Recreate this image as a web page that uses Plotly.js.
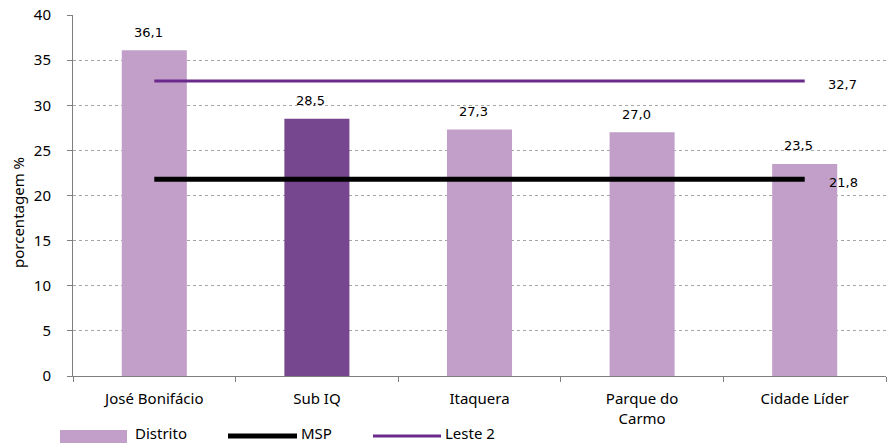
<!DOCTYPE html>
<html>
<head>
<meta charset="utf-8">
<script src="https://cdn.plot.ly/plotly-3.0.1.min.js"></script>
<style>html,body{margin:0;padding:0;background:#fff;}#chart{width:887px;height:444px;}</style>
</head>
<body>
<div id="chart"></div>
<script>
const categories = ["José Bonifácio", "Sub IQ", "Itaquera", "Parque do<br>Carmo", "Cidade Líder"];
const distritoValues = [36.1, 28.5, 27.3, 27.0, 23.5];
const mspValue = 21.8;
const leste2Value = 32.7;
const barColors = ["#C19FC9", "#76468F", "#C19FC9", "#C19FC9", "#C19FC9"];

const W = 887, H = 444;
const M = {l: 73, r: 1, t: 15, b: 68};
const pw = W - M.l - M.r, ph = H - M.t - M.b;
const px = x => (x - M.l) / pw;
const py = y => (H - M.b - y) / ph;

const fmt = v => v.toFixed(1).replace('.', ',');
const font = {family: "Noto Sans, Open Sans, sans-serif", size: 15, color: "#000"};
const labelFont = {family: "DejaVu Sans, Verdana, sans-serif", size: 13, color: "#000"};

const traces = [
  {type: "bar", x: categories, y: distritoValues, marker: {color: barColors},
   name: "Distrito", showlegend: false, hoverinfo: "none"},
  {type: "scatter", mode: "lines", x: categories, y: categories.map(() => mspValue),
   line: {color: "#000", width: 5}, name: "MSP", showlegend: false, hoverinfo: "none"},
  {type: "scatter", mode: "lines", x: categories, y: categories.map(() => leste2Value),
   line: {color: "#6A2A8C", width: 3}, name: "Leste 2", showlegend: false, hoverinfo: "none"}
];

const annotations = distritoValues.map((v, i) => ({
  x: categories[i], y: v, xref: "x", yref: "y", text: fmt(v), showarrow: false,
  yshift: 18, xshift: -6, font: labelFont
}));
annotations.push({x: categories[categories.length - 1], y: leste2Value, xref: "x", yref: "y",
  text: fmt(leste2Value), showarrow: false, xanchor: "left", xshift: 21, yshift: -4, font: labelFont});
annotations.push({x: categories[categories.length - 1], y: mspValue, xref: "x", yref: "y",
  text: fmt(mspValue), showarrow: false, xanchor: "left", xshift: 22, yshift: -3, font: labelFont});
// legend texts
annotations.push({x: px(133), y: py(433), xref: "paper", yref: "paper", text: "Distrito", showarrow: false, xanchor: "left", yanchor: "middle", font: font});
annotations.push({x: px(299), y: py(433), xref: "paper", yref: "paper", text: "MSP", showarrow: false, xanchor: "left", yanchor: "middle", font: font});
annotations.push({x: px(443), y: py(433), xref: "paper", yref: "paper", text: "Leste 2", showarrow: false, xanchor: "left", yanchor: "middle", font: font});
// y axis title
annotations.push({x: px(18), y: py(213), xref: "paper", yref: "paper", text: "porcentagem %", textangle: -90, showarrow: false, xanchor: "center", yanchor: "middle", font: font});

const shapes = [
  {type: "rect", xref: "paper", yref: "paper", x0: px(60), x1: px(127), y0: py(430), y1: py(443), fillcolor: barColors[0], line: {width: 0}},
  {type: "line", xref: "paper", yref: "paper", x0: px(228), x1: px(297), y0: py(436), y1: py(436), line: {color: "#000", width: 5}},
  {type: "line", xref: "paper", yref: "paper", x0: px(373), x1: px(441), y0: py(436), y1: py(436), line: {color: "#6A2A8C", width: 3}}
];

const layout = {
  width: W, height: H, margin: M,
  paper_bgcolor: "#fff", plot_bgcolor: "#fff",
  font: font,
  bargap: 0.6,
  showlegend: false,
  xaxis: {type: "category", showline: true, linecolor: "#7F7F7F", linewidth: 1,
    ticks: "outside", tickson: "boundaries", ticklen: 5, tickcolor: "#7F7F7F",
    showgrid: false, ticklabelstandoff: 9, tickfont: font},
  yaxis: {range: [0, 40], dtick: 5, showline: true, linecolor: "#7F7F7F", linewidth: 1,
    ticks: "outside", ticklen: 5, tickcolor: "#7F7F7F", zeroline: false,
    showgrid: true, gridcolor: "#A6A6A6", griddash: "3px,3px", gridwidth: 1,
    ticklabelstandoff: 13, tickfont: font},
  annotations: annotations,
  shapes: shapes
};

Plotly.newPlot("chart", traces, layout, {staticPlot: true, displayModeBar: false});
</script>
</body>
</html>
